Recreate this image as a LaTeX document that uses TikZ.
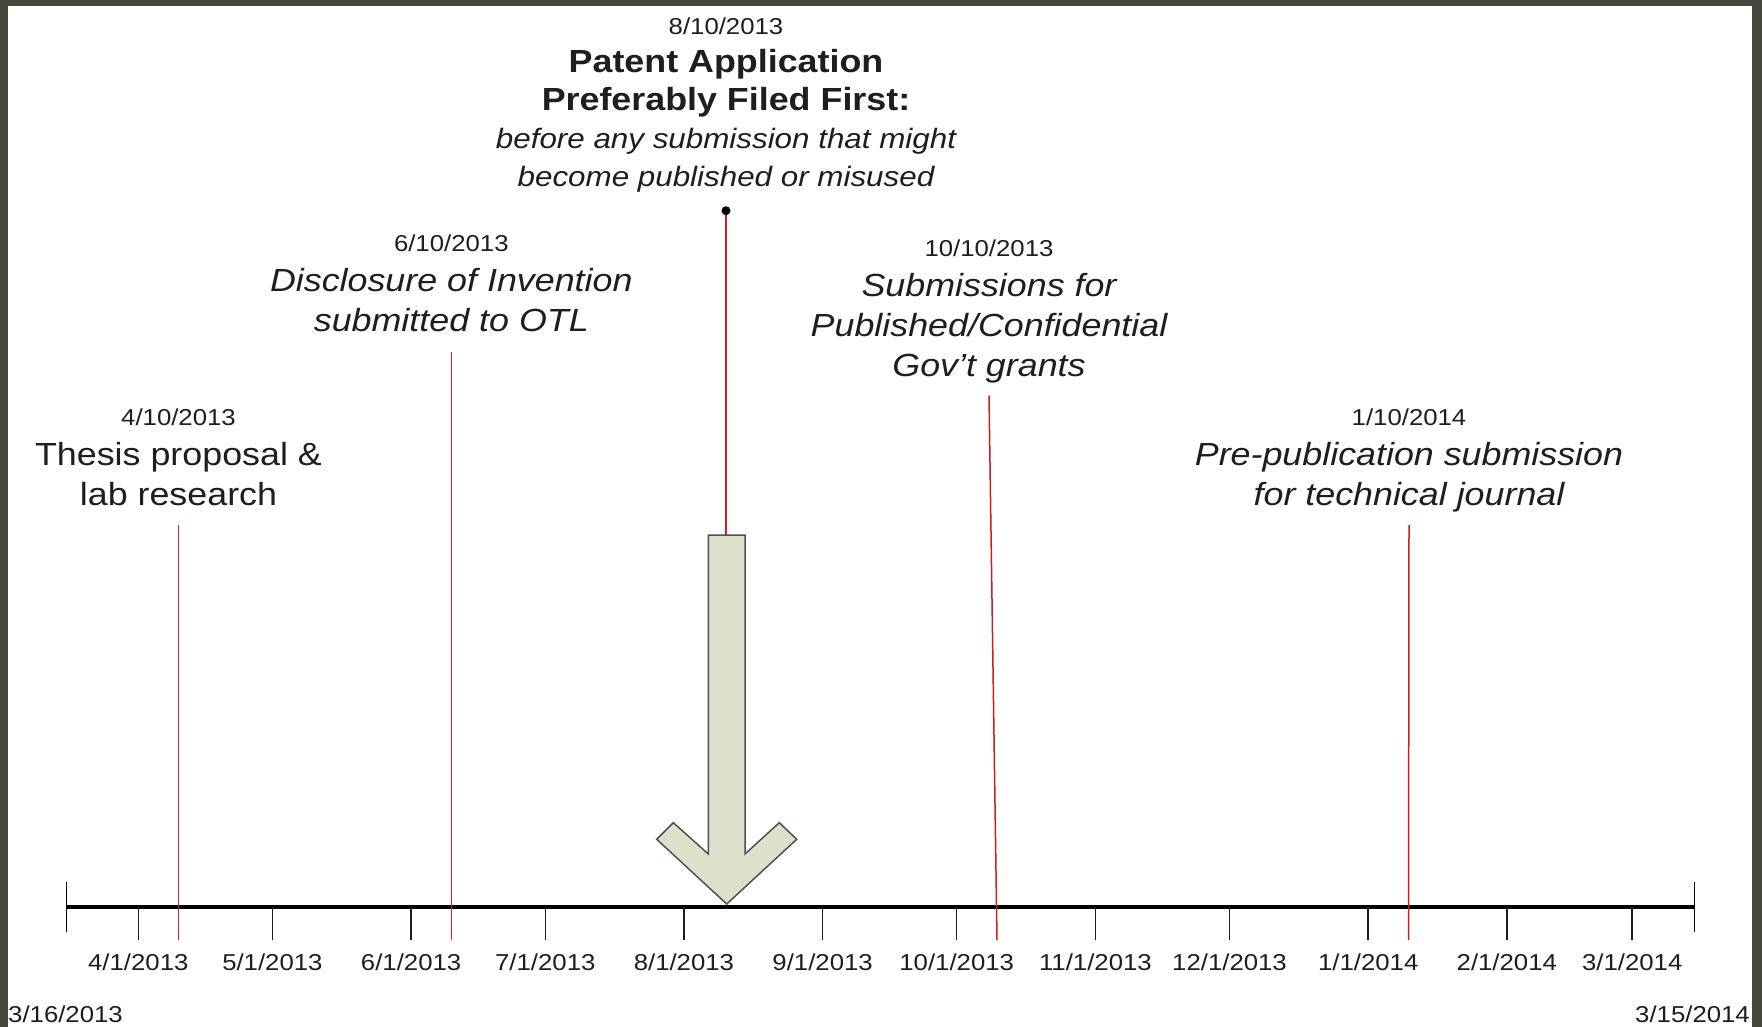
\documentclass[tikz,border=0pt]{standalone}
\usepackage{fontspec}
\setmainfont{Liberation Sans}[FakeStretch=1.12]
\definecolor{framegray}{HTML}{45473B}
\definecolor{eventred}{HTML}{CC2020}
\definecolor{arrowfill}{HTML}{DDE1CC}
\definecolor{arrowedge}{HTML}{505050}
\definecolor{darktext}{HTML}{1E1E1E}

\begin{document}
\begin{tikzpicture}[x=1pt, y=-1pt,
        every node/.style={inner sep=0pt, text=darktext},
        datelabel/.style={font=\fontsize{23}{27}\selectfont},
        eventlabel/.style={align=center, anchor=base, font=\fontsize{32}{40}\selectfont},
        eventline/.style={eventred, line width=1.5pt}]
    \useasboundingbox (0,0) rectangle (1762,1027);
    % Frame
    \fill[framegray] (0,0) rectangle (1762,1027);
    \fill[white] (8,6) rectangle (1752,1027);

    % Axis
    \draw[line width=4pt] (66.7,906.7) -- (1694.7,906.7);
    \draw[line width=1.5pt] (66.7,882) -- (66.7,932);
    \draw[line width=1.5pt] (1694.7,882) -- (1694.7,932);
    \foreach \x/\m/\yr in {138.3/4/2013, 272.4/5/2013, 411.1/6/2013, 545.3/7/2013,
            683.9/8/2013, 822.6/9/2013, 956.7/10/2013, 1095.4/11/2013,
            1229.5/12/2013, 1368.2/1/2014, 1506.8/2/2014, 1632.2/3/2014} {
        \draw[line width=1.5pt, darktext] (\x,906.7) -- (\x,940);
        \node[datelabel, anchor=base] (m\m-\yr) at (\x,970) {\m/1/\yr};
    }
    \node[datelabel, anchor=base west] (start) at (8,1022) {3/16/2013};
    \node[datelabel, anchor=base east] (end) at (1750,1022) {3/15/2014};

    % Nodes (placed by the baseline of their last line)
    \node[eventlabel] (thesis) at (178.5,505)
        {{\fontsize{23}{27}\selectfont 4/10/2013}\\Thesis proposal \&\\lab research};
    \node[eventlabel, font=\fontsize{32}{40}\selectfont\itshape] (disclosure) at (451.3,331)
        {{\fontsize{23}{27}\selectfont\upshape 6/10/2013}\\Disclosure of Invention\\submitted to OTL};
    \node[eventlabel, font=\fontsize{32}{38}\selectfont\bfseries] (patent) at (726,187)
        {{\fontsize{23}{27}\selectfont\mdseries 8/10/2013}\\Patent Application\\Preferably Filed First:\\
         {\fontsize{28}{38}\selectfont\mdseries\itshape before any submission that might}\\
         {\fontsize{28}{38}\selectfont\mdseries\itshape become published or misused}};
    \node[eventlabel, font=\fontsize{32}{40}\selectfont\itshape] (grants) at (989,376)
        {{\fontsize{23}{27}\selectfont\upshape 10/10/2013}\\Submissions for\\Published/Confidential\\Gov’t grants};
    \node[eventlabel, font=\fontsize{32}{40}\selectfont\itshape] (journal) at (1409,505)
        {{\fontsize{23}{27}\selectfont\upshape 1/10/2014}\\Pre-publication submission\\for technical journal};
    \node[circle, fill=black, minimum size=9pt] (filedot) at (726,210.7) {};

    % Filing arrow
    \draw[draw=arrowedge, fill=arrowfill, line width=1.5pt]
        (708.3,535) -- (745,535) -- (745,854) -- (779.3,822.7) -- (796.7,839.3)
        -- (726.7,904) -- (656.7,839.3) -- (673.3,822.7) -- (708.3,854) -- cycle;
    \coordinate (arrowtop) at (726,535);

    % Edges
    \coordinate (thesis top) at (178.5,525);
    \coordinate (thesis foot) at (178.5,940);
    \coordinate (disclosure top) at (451.3,352);
    \coordinate (disclosure foot) at (451.3,940);
    \coordinate (grants top) at (989,395.5);
    \coordinate (grants foot) at (997,940);
    \coordinate (journal top) at (1409,525);
    \coordinate (journal foot) at (1408.5,940);
    \draw[eventline] (thesis top) -- (thesis foot);
    \draw[eventline] (disclosure top) -- (disclosure foot);
    \draw[eventline] (grants top) -- (grants foot);
    \draw[eventline] (journal top) -- (journal foot);
    \draw[eventline] (filedot) -- (arrowtop);
\end{tikzpicture}
\end{document}
